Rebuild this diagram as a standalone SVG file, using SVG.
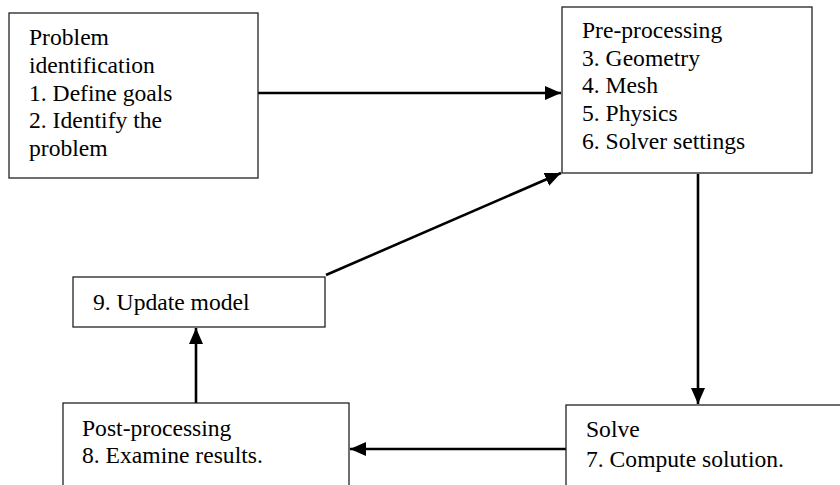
<svg xmlns="http://www.w3.org/2000/svg" width="840" height="485" viewBox="0 0 840 485" font-family="'Liberation Serif', 'DejaVu Serif', serif">
<style>
.box{fill:#fff;stroke:#222;stroke-width:1.3}
.lbl{font-family:'Liberation Serif','DejaVu Serif',serif;font-size:23.6px;fill:#000}
.con{stroke:#000;stroke-width:2.6;fill:none;marker-end:url(#ah)}
</style>
<defs>
<marker id="ah" markerUnits="userSpaceOnUse" markerWidth="16" markerHeight="14" refX="16" refY="7" orient="auto">
<path d="M0,0 L16,7 L0,14 z" fill="#000"/>
</marker>
</defs>
<rect width="840" height="485" fill="#fff"/>
<g id="connectors">
<path class="con" d="M258,93 L561,93"/>
<path class="con" d="M326,275 L561,173"/>
<path class="con" d="M698,174 L698,404"/>
<path class="con" d="M566,449 L350,449"/>
<path class="con" d="M196,403 L196,328"/>
</g>
<g id="problem">
<rect class="box" x="9" y="13" width="249" height="165"/>
<text class="lbl" x="29" y="45">Problem</text>
<text class="lbl" x="29" y="73">identification</text>
<text class="lbl" x="29" y="101">1. Define goals</text>
<text class="lbl" x="29" y="128">2. Identify the</text>
<text class="lbl" x="29" y="156">problem</text>
</g>
<g id="preprocessing">
<rect class="box" x="562" y="7" width="250" height="166"/>
<text class="lbl" x="582" y="38">Pre-processing</text>
<text class="lbl" x="582" y="66">3. Geometry</text>
<text class="lbl" x="582" y="93">4. Mesh</text>
<text class="lbl" x="582" y="121">5. Physics</text>
<text class="lbl" x="582" y="149">6. Solver settings</text>
</g>
<g id="update">
<rect class="box" x="73" y="277" width="252" height="50"/>
<text class="lbl" x="93" y="310">9. Update model</text>
</g>
<g id="postprocessing">
<rect class="box" x="63" y="403" width="286" height="100"/>
<text class="lbl" x="82" y="436">Post-processing</text>
<text class="lbl" x="82" y="463">8. Examine results.</text>
</g>
<g id="solve">
<rect class="box" x="566" y="405" width="300" height="100"/>
<text class="lbl" x="586" y="437">Solve</text>
<text class="lbl" x="586" y="467">7. Compute solution.</text>
</g>
</svg>
